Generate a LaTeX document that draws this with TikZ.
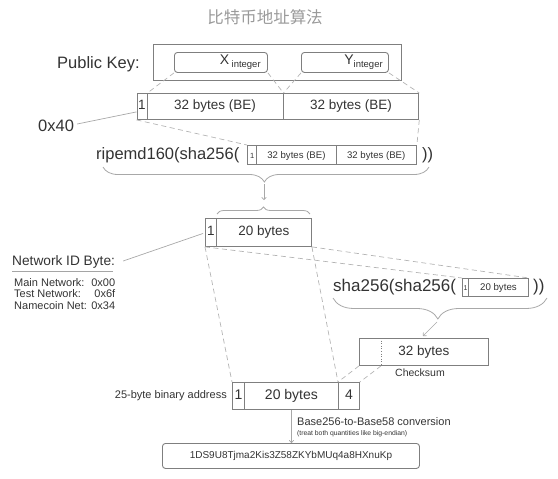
\documentclass[tikz,border=0pt]{standalone}
\usepackage{fontspec}
\setmainfont{Liberation Sans}
\newfontfamily\cjkfont{Noto Sans CJK SC}
\usetikzlibrary{arrows.meta,decorations.pathreplacing,calc}
\definecolor{txt}{HTML}{333333}
\definecolor{boxc}{HTML}{7F7F7F}
\definecolor{dashc}{HTML}{B4B4B4}
\definecolor{bracec}{HTML}{A8A8A8}
\definecolor{titlec}{HTML}{9A9A9A}
\newcommand\myfs[1]{\fontsize{#1}{#1}\selectfont}
\begin{document}
\begin{tikzpicture}[x=1pt,y=-1pt,
  every node/.style={text=txt},
  cell/.style={draw=boxc, line width=0.9pt, inner sep=0pt, anchor=north west,
    text height=.72em, text depth=.02em},
  rbox/.style={draw=boxc, line width=0.9pt, rounded corners=3pt, anchor=north west, inner sep=0pt},
  bigtxt/.style={font=\myfs{16.5}, inner sep=0pt},
  dashline/.style={draw=dashc, line width=0.7pt, dash pattern=on 5pt off 3.5pt},
  conn/.style={draw=bracec, line width=0.7pt},
  brc/.style={draw=bracec, line width=0.8pt, decorate},
  arrowc/.style={draw=bracec, line width=0.7pt, -{To[length=3pt,width=5pt]}}
]
\useasboundingbox (0,0) rectangle (558,479);

% title
\node[font=\cjkfont\myfs{16.5}, text=titlec] (title) at (265,17) {比特币地址算法};

% public key
\node[bigtxt, anchor=west] (pklabel) at (57,64) {Public Key:};
\node[draw=boxc, line width=0.8pt, minimum width=248.2pt, minimum height=36pt, inner sep=0pt, anchor=north west] (pkbox) at (152.5,44) {};
\node[rbox, minimum width=93pt, minimum height=20pt] (xbox) at (174,52) {};
\node[rbox, minimum width=87pt, minimum height=20pt] (ybox) at (301,52) {};
\node[anchor=east, inner sep=0pt, font=\myfs{14}] (xlab) at ($(xbox.east)+(-7,0)$) {X\,\raisebox{-3pt}{\myfs{9.5}integer}};
\node[anchor=east, inner sep=0pt, font=\myfs{14}] (ylab) at ($(ybox.east)+(-6,0)$) {Y\raisebox{-3pt}{\myfs{9.5}integer}};

% first byte row
\node[cell, minimum width=10pt, minimum height=26pt, font=\myfs{13.5}] (r1) at (136.5,93) {1};
\node[cell, minimum width=136.1pt, minimum height=26pt, font=\myfs{13.5}] (r2) at (146.5,93) {32 bytes (BE)};
\node[cell, minimum width=135.8pt, minimum height=26pt, font=\myfs{13.5}] (r3) at (282.6,93) {32 bytes (BE)};
\draw[dashline] (xbox.south west) -- (r1.north east);
\draw[dashline] (xbox.south east) -- (r2.north east);
\draw[dashline] (ybox.south west) -- (r2.north east);
\draw[dashline] (ybox.south east) -- (r3.north east);

% 0x40
\node[bigtxt, anchor=west] (x40) at (38,126) {0x40};
\draw[conn] ([xshift=3pt,yshift=2pt]x40.east) -- ($(r1.south west)+(0,-8)$);

% ripemd line
\node[bigtxt, anchor=west] (ripe) at (96,155) {ripemd160(sha256(};
\node[cell, minimum width=9.4pt, minimum height=19pt, font=\myfs{7.5}] (s1) at (247,145) {1};
\node[cell, minimum width=79.1pt, minimum height=19pt, font=\myfs{9.6}] (s2) at (256.4,145) {32 bytes (BE)};
\node[cell, minimum width=80.5pt, minimum height=19pt, font=\myfs{9.6}] (s3) at (335.5,145) {32 bytes (BE)};
\node[bigtxt, anchor=west] (rpar) at (422,155) {))};
\draw[dashline] (r1.south west) -- (s1.north west);
\draw[dashline] (r3.south east) -- (s3.north east);

\coordinate (br1a) at (103,167);
\coordinate (br1b) at (429,167);
\draw[brc, decoration={brace, mirror, amplitude=15pt, aspect=0.495}] (br1a) -- (br1b);
\coordinate (ar1s) at (264,184);
\coordinate (ar1e) at (264,200);
\draw[arrowc] (ar1s) -- (ar1e);
\coordinate (br2a) at (217,214);
\coordinate (br2b) at (310,214);
\draw[brc, decoration={brace, amplitude=7pt, aspect=0.5}] (br2a) -- (br2b);

% 20-byte box
\node[cell, minimum width=11pt, minimum height=28pt, font=\myfs{13.5}] (b1) at (205,218) {1};
\node[cell, minimum width=95pt, minimum height=28pt, font=\myfs{13.5}] (b2) at (216,218) {20 bytes};

% network id
\node[anchor=west, inner sep=0pt, font=\myfs{13.7}] (netid) at (12,262) {Network ID Byte:};
\draw[draw=boxc!70, line width=0.6pt] ([yshift=-2.5pt]netid.south west) -- ([yshift=-2.5pt,xshift=-2pt]netid.south east);
\node[anchor=north west, inner sep=0pt, font=\myfs{11}] (nettab) at (14,278.3)
  {\begin{tabular*}{101pt}{@{}l@{\extracolsep{\fill}}r@{}}Main Network: & 0x00\\ Test Network: & 0x6f\\ Namecoin Net: & 0x34\end{tabular*}};
\draw[conn] ([xshift=8pt,yshift=1pt]netid.east) -- ([xshift=-2pt,yshift=-1pt]b1.west);

% sha256 line
\node[anchor=west, inner sep=0pt, font=\myfs{17}] (sha) at (333,287) {sha256(sha256(};
\node[cell, minimum width=6pt, minimum height=18pt, font=\myfs{7}] (c1) at (462,278) {1};
\node[cell, minimum width=60pt, minimum height=18pt, font=\myfs{9.7}] (c2) at (468,278) {20 bytes};
\node[anchor=west, inner sep=0pt, font=\myfs{17}] (spar) at (533,287) {))};
\draw[dashline] (b1.south west) -- (c1.north west);
\draw[dashline] (b2.south east) -- (c2.north east);

\coordinate (br3a) at (333,298);
\coordinate (br3b) at (547,298);
\draw[brc, decoration={brace, mirror, amplitude=21pt, aspect=0.49}] (br3a) -- (br3b);
\coordinate (ar2s) at (437,322);
\coordinate (ar2e) at (423,336);
\draw[arrowc] (ar2s) -- (ar2e);

% checksum
\node[cell, minimum width=129pt, minimum height=27pt, font=\myfs{13.5}] (ck) at (359,338) {32 bytes};
\coordinate (ckdt) at ($(ck.north west)+(22,0)$);
\coordinate (ckdb) at ($(ck.south west)+(22,0)$);
\draw[boxc, line width=0.6pt, dotted] (ckdt) -- (ckdb);
\node[inner sep=0pt, font=\myfs{10.5}] (cklab) at (420,373) {Checksum};

% 25-byte address
\node[cell, minimum width=12pt, minimum height=27pt, font=\myfs{14}] (a1) at (232,382) {1};
\node[cell, minimum width=94pt, minimum height=27pt, font=\myfs{14}] (a2) at (244,382) {20 bytes};
\node[cell, minimum width=21pt, minimum height=27pt, font=\myfs{14}] (a3) at (338,382) {4};
\node[anchor=east, inner sep=0pt, font=\myfs{11}] (addrlab) at (227,396) {25-byte binary address};
\draw[dashline] (b1.south west) -- (a1.north west);
\draw[dashline] (b2.south east) -- (a3.north west);
\draw[dashline] (ck.south west) -- (a3.north west);
\draw[dashline] (ckdb) -- (a3.north east);

% conversion
\node[anchor=west, inner sep=0pt, font=\myfs{11}] (conv) at (297,422) {Base256-to-Base58 conversion};
\node[anchor=west, inner sep=0pt, font=\myfs{6.8}] (treat) at (297,433.5) {(treat both quantities like big-endian)};
\node[rbox, minimum width=257pt, minimum height=25pt, font=\myfs{10}] (fin) at (162,443) {1DS9U8Tjma2Kis3Z58ZKYbMUq4a8HXnuKp};
\draw[arrowc] (a2.south) -- (a2.south |- fin.north);
\end{tikzpicture}
\end{document}
